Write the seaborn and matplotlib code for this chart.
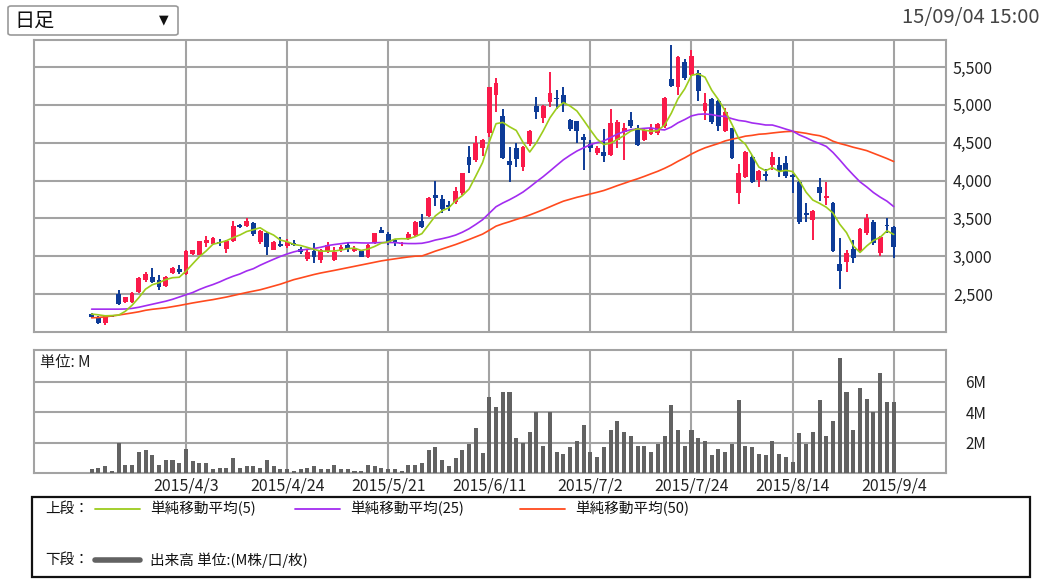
import numpy as np
import pandas as pd
import matplotlib
matplotlib.use("Agg")
import matplotlib.pyplot as plt
from matplotlib.patches import Rectangle, FancyBboxPatch
from matplotlib.lines import Line2D
import seaborn as sns

# ---------------- data (daily candles, 2015/3/16 .. 2015/9/4) ----------------
opens = [2240, 2201, 2120, 2215, 2504, 2396, 2392, 2521, 2686, 2721,
         2686, 2608, 2781, 2829, 2764, 3032, 3019, 3171, 3162, 3193,
         3097, 3206, 3409, 3400, 3444, 3184, 3301, 3084, 3162, 3135,
         3180, 3100, 2958, 3070, 2950, 3060, 2950, 3080, 3150, 3075,
         3070, 2995, 3180, 3345, 3290, 3210, 3160, 3235, 3280, 3465,
         3530, 3810, 3750, 3680, 3710, 3830, 4315, 4270, 4425, 4631,
         5129, 4851, 4260, 4425, 4180, 4480, 4985, 4820, 5040, 5090,
         5130, 4800, 4780, 4580, 4480, 4360, 4380, 4335, 4535, 4640,
         4800, 4700, 4535, 4620, 4630, 4720, 5337, 5240, 5570, 5400,
         5420, 4915, 5075, 5045, 4650, 4690, 3840, 4042, 4315, 4007,
         4080, 4205, 4200, 4230, 4075, 3985, 3565, 3477, 3910, 3765,
         3707, 2895, 2925, 3100, 3071, 3300, 3455, 3044, 3410, 3380]
highs = [2253, 2210, 2225, 2225, 2556, 2465, 2521, 2729, 2794, 2838,
         2751, 2738, 2859, 2881, 3084, 3084, 3206, 3271, 3249, 3227,
         3214, 3465, 3430, 3500, 3457, 3344, 3314, 3206, 3249, 3225,
         3215, 3125, 3080, 3170, 3100, 3190, 3125, 3145, 3180, 3130,
         3085, 3165, 3310, 3390, 3320, 3230, 3190, 3320, 3465, 3560,
         3780, 3995, 3810, 3725, 3915, 4105, 4450, 4590, 4545, 5240,
         5350, 4940, 4445, 4490, 4450, 4670, 5105, 5000, 5440, 5195,
         5240, 4810, 4790, 4610, 4540, 4450, 4675, 4940, 4800, 4760,
         4910, 4735, 4690, 4750, 4760, 5100, 5790, 5645, 5610, 5730,
         5465, 5155, 5090, 5070, 4960, 4700, 4220, 4390, 4340, 4140,
         4150, 4383, 4310, 4320, 4090, 4000, 3700, 3610, 4030, 3985,
         3720, 3245, 3080, 3210, 3370, 3557, 3480, 3265, 3500, 3397]
lows = [2188, 2101, 2085, 2195, 2361, 2385, 2385, 2513, 2664, 2643,
        2556, 2591, 2764, 2764, 2751, 3019, 3011, 3119, 3149, 3141,
        3041, 3184, 3370, 3387, 3271, 3162, 3011, 3076, 3119, 3110,
        3130, 3030, 2940, 2905, 2915, 3045, 2935, 3060, 3060, 3060,
        2990, 2975, 3165, 3300, 3150, 3140, 3140, 3210, 3260, 3370,
        3520, 3665, 3575, 3600, 3690, 3810, 4095, 4250, 4320, 4580,
        4910, 4280, 3980, 4180, 4130, 4450, 4810, 4755, 4975, 4940,
        4910, 4650, 4500, 4135, 4380, 4340, 4245, 4320, 4430, 4270,
        4700, 4455, 4525, 4600, 4600, 4700, 5240, 5130, 5330, 5380,
        5045, 4800, 4750, 4660, 4640, 4280, 3690, 4030, 3970, 3920,
        3995, 4140, 4050, 4030, 3830, 3430, 3455, 3210, 3733, 3675,
        3060, 2570, 2790, 2912, 3060, 3280, 3150, 3000, 3300, 2970]
closes = [2201, 2114, 2215, 2200, 2374, 2456, 2513, 2716, 2764, 2664,
          2591, 2721, 2838, 2794, 3067, 3076, 3197, 3214, 3236, 3171,
          3206, 3400, 3387, 3465, 3292, 3335, 3119, 3184, 3132, 3190,
          3150, 3050, 3060, 2995, 3080, 3145, 3060, 3125, 3090, 3110,
          2995, 3150, 3300, 3310, 3190, 3180, 3175, 3290, 3455, 3390,
          3765, 3765, 3630, 3650, 3860, 4095, 4205, 4490, 4535, 5231,
          5293, 4291, 4203, 4290, 4445, 4655, 4910, 4985, 5150, 5075,
          5030, 4680, 4660, 4535, 4435, 4425, 4320, 4755, 4775, 4700,
          4720, 4470, 4665, 4700, 4745, 5085, 5248, 5628, 5350, 5640,
          5180, 5030, 4767, 4723, 4900, 4295, 4095, 4383, 3985, 4130,
          4055, 4307, 4120, 4060, 4050, 3455, 3545, 3600, 3840, 3795,
          3070, 2805, 3045, 2970, 3355, 3500, 3168, 3256, 3398, 3115]
volumes_m = [0.24, 0.35, 0.46, 0.13, 1.96, 0.55, 0.55, 1.39, 1.50, 1.17,
             0.55, 0.88, 0.88, 0.68, 1.61, 0.77, 0.66, 0.66, 0.24, 0.35,
             0.35, 0.97, 0.35, 0.46, 0.46, 0.35, 0.88, 0.46, 0.24, 0.24,
             0.13, 0.29, 0.35, 0.46, 0.24, 0.24, 0.55, 0.24, 0.24, 0.13,
             0.13, 0.55, 0.46, 0.35, 0.24, 0.24, 0.13, 0.55, 0.55, 0.66,
             1.50, 1.72, 0.88, 0.46, 0.99, 1.50, 1.92, 2.96, 1.30, 5.00,
             4.37, 5.32, 5.32, 2.32, 1.99, 2.72, 4.00, 1.79, 4.04, 1.37,
             1.28, 1.68, 2.10, 3.13, 1.37, 1.06, 1.68, 2.83, 3.44, 2.72,
             2.41, 1.79, 1.79, 1.37, 1.90, 2.41, 4.48, 2.83, 1.79, 2.83,
             2.32, 2.10, 1.17, 1.59, 1.37, 1.90, 4.79, 1.79, 1.68, 1.28,
             1.17, 2.10, 1.28, 1.06, 0.75, 2.63, 1.90, 2.72, 4.79, 2.41,
             3.44, 7.57, 5.32, 2.83, 5.63, 4.90, 4.00, 6.56, 4.70, 4.70]
# moving-average values before a full window exists
ma5_head = [2235, 2225, 2212, 2215]
ma25_head = [2300, 2300, 2300, 2300, 2300, 2302, 2310, 2325, 2345, 2365,
             2385, 2405, 2430, 2460, 2490, 2520, 2560, 2595, 2625, 2660,
             2700, 2735, 2765, 2805]
ma50_head = [2185, 2190, 2198, 2210, 2222, 2236, 2250, 2265, 2285, 2298,
             2308, 2318, 2333, 2348, 2365, 2382, 2397, 2412, 2426, 2443,
             2460, 2480, 2500, 2520, 2538, 2556, 2580, 2605, 2630, 2660,
             2690, 2712, 2735, 2758, 2778, 2795, 2812, 2830, 2848, 2866,
             2884, 2902, 2920, 2938, 2952, 2965, 2978, 2990, 3000]
date_labels = ["2015/4/3", "2015/4/24", "2015/5/21", "2015/6/11",
               "2015/7/2", "2015/7/24", "2015/8/14", "2015/9/4"]
date_index = [14, 29, 44, 59, 74, 89, 104, 119]
price_ticks = [2500, 3000, 3500, 4000, 4500, 5000, 5500]
vol_ticks = [2, 4, 6]
vol_tick_labels = ["2M", "4M", "6M"]
legend_labels = ["単純移動平均(5)", "単純移動平均(25)", "単純移動平均(50)"]

# ---------------- derived ----------------
df = pd.DataFrame({"o": opens, "h": highs, "l": lows, "c": closes, "v": volumes_m})
df["x"] = np.arange(len(df))
def ma(n, head):
    s = df["c"].rolling(n).mean()
    s.iloc[:len(head)] = head
    return s
df["ma5"] = ma(5, ma5_head)
df["ma25"] = ma(25, ma25_head)
df["ma50"] = ma(50, ma50_head)

RED = "#fa1a4a"
BLUE = "#0d3b97"
GREEN = "#9ccc1c"
PURPLE = "#a22cf0"
ORANGE = "#ff4a1e"
GRID = "#a3a3a3"
VOL = "#626262"
TXT = "#222222"

sns.set_theme(style="white")
plt.rcParams['font.family'] = ['Noto Sans CJK JP', 'DejaVu Sans']

W, H = 1043, 585
fig = plt.figure(figsize=(W / 100, H / 100), dpi=100)
def fx(x): return x / W
def fy(y): return 1 - y / H

ax = fig.add_axes([fx(34), fy(332), fx(946) - fx(34), fy(40) - fy(332)])
axv = fig.add_axes([fx(34), fy(473), fx(946) - fx(34), fy(350) - fy(473)])

xlim = (-8.55, 126.76)
for a in (ax, axv):
    a.set_xlim(*xlim)
    for s in a.spines.values():
        s.set_color(GRID)
        s.set_linewidth(1.5)
    for xi in date_index:
        a.axvline(xi, color=GRID, lw=1.5, zorder=0)
    a.tick_params(length=0)

# price panel
ax.set_ylim(1998, 5857)
for t in price_ticks:
    ax.axhline(t, color=GRID, lw=1.5, zorder=0)
up = df["c"] >= df["o"]
cols = np.where(up, RED, BLUE)
ax.vlines(df["x"], df["l"], df["h"], colors=cols, lw=1.4, zorder=3)
body = np.maximum((df["c"] - df["o"]).abs(), 18)
ax.bar(df["x"], body, bottom=np.minimum(df["o"], df["c"]), width=0.72,
       color=cols, linewidth=0, zorder=4)
sns.lineplot(data=df, x="x", y="ma50", ax=ax, color=ORANGE, lw=1.2, zorder=5)
sns.lineplot(data=df, x="x", y="ma25", ax=ax, color=PURPLE, lw=1.2, zorder=5)
sns.lineplot(data=df, x="x", y="ma5", ax=ax, color=GREEN, lw=1.2, zorder=6)
ax.yaxis.tick_right()
ax.set_yticks(price_ticks)
ax.set_yticklabels([f"{t:,}" for t in price_ticks], fontsize=11.5, color=TXT)
ax.tick_params(axis="y", pad=5)
ax.set_xticks([])
ax.set_xlabel("")
ax.set_ylabel("")

# volume panel
axv.set_ylim(0, 8.1)
for t in vol_ticks:
    axv.axhline(t, color=GRID, lw=1.5, zorder=0)
axv.bar(df["x"], df["v"], width=0.6, color=VOL, linewidth=0, zorder=3)
axv.yaxis.tick_right()
axv.set_yticks(vol_ticks)
axv.set_yticklabels(vol_tick_labels, fontsize=11, color=TXT)
axv.tick_params(axis="y", pad=14)
axv.set_xticks(date_index)
axv.set_xticklabels(date_labels, fontsize=11.5, color=TXT)
axv.tick_params(axis="x", pad=3)
axv.set_xlabel("")
axv.set_ylabel("")
axv.text(0.007, 0.9, "単位: M", transform=axv.transAxes, fontsize=11,
         color=TXT, va="center", ha="left")

# header: dropdown and timestamp
fig.patches.append(FancyBboxPatch((fx(8), fy(35)), fx(178) - fx(8), fy(6) - fy(35),
                                  boxstyle="round,pad=0,rounding_size=0.003",
                                  transform=fig.transFigure, facecolor="white",
                                  edgecolor="#9a9a9a", lw=1.2))
fig.text(fx(14), fy(21), "日足", fontsize=14.5, color="#111111", va="center", ha="left")
fig.text(fx(164), fy(20), "▼", fontsize=9, color="#111111", va="center", ha="center",
         family=['DejaVu Sans'])
fig.text(fx(1040), fy(18), "15/09/04 15:00", fontsize=14.5, color="#444444",
         va="center", ha="right")

# legend box
fig.patches.append(Rectangle((fx(32), fy(577)), fx(1030) - fx(32), fy(497) - fy(577),
                             transform=fig.transFigure, facecolor="white",
                             edgecolor="#111111", lw=1.6))
fig.text(fx(45), fy(509), "上段：", fontsize=10.5, color="#111111", va="center")
for (x0, col, lab) in [(95, GREEN, legend_labels[0]), (295, PURPLE, legend_labels[1]),
                       (520, ORANGE, legend_labels[2])]:
    fig.add_artist(Line2D([fx(x0), fx(x0 + 45)], [fy(509), fy(509)], color=col, lw=1.3,
                          transform=fig.transFigure))
    fig.text(fx(x0 + 55), fy(509), lab, fontsize=10.5, color="#111111", va="center")
fig.text(fx(45), fy(560), "下段：", fontsize=10.5, color="#111111", va="center")
fig.add_artist(Line2D([fx(95), fx(140)], [fy(560), fy(560)], color=VOL, lw=4,
                      transform=fig.transFigure))
fig.text(fx(150), fy(560), "出来高 単位:(M株/口/枚)", fontsize=10.5, color="#111111", va="center")

fig.savefig("out.png", dpi=100)
